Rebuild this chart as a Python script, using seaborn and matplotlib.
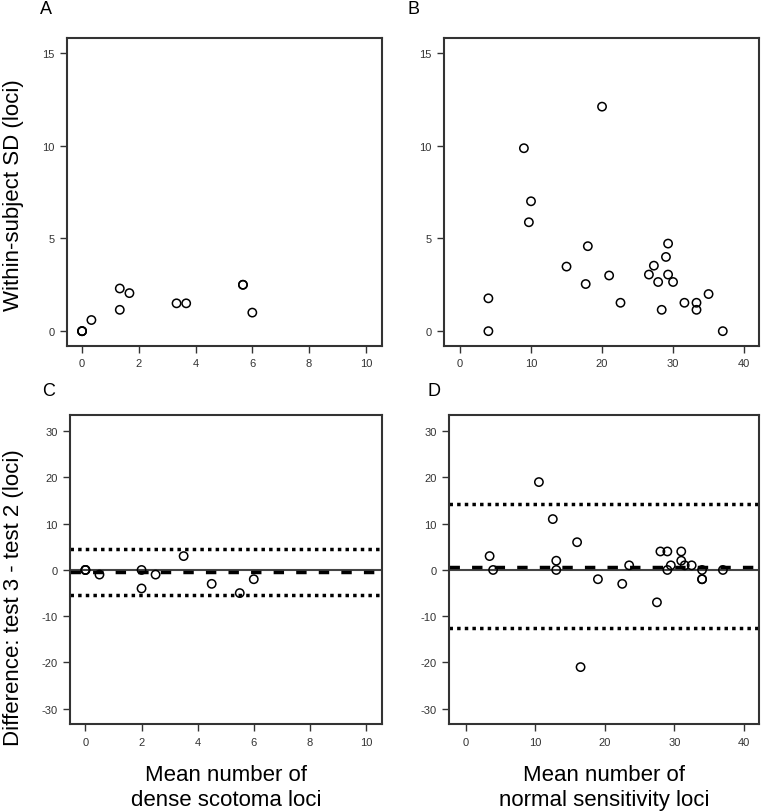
import matplotlib as mpl
import matplotlib.pyplot as plt
import numpy as np
import pandas as pd
import seaborn as sns

sns.set_style('ticks')
plt.rcParams['font.family'] = ['Liberation Sans', 'DejaVu Sans']
plt.rcParams['axes.unicode_minus'] = False

# panel A: dense scotoma loci, within-subject SD
a_mean = [0, 0, 0, 0.33, 1.33, 1.33, 1.67, 3.33, 3.67, 5.67, 5.67, 6.0]
a_sd = [0, 0, 0, 0.6, 2.3, 1.15, 2.05, 1.5, 1.5, 2.5, 2.5, 1.0]

# panel B: normal sensitivity loci, within-subject SD
b_mean = [4.0, 4.0, 9.0, 10.0, 9.7, 20.0, 15.0, 17.7, 18.0, 21.0, 22.6, 26.6,
          27.3, 27.9, 28.4, 29.0, 29.3, 29.3, 30.0, 31.6, 33.3, 33.3, 35.0, 37.0]
b_sd = [0, 1.77, 9.86, 7.0, 5.87, 12.1, 3.48, 2.54, 4.58, 3.0, 1.53, 3.05,
        3.53, 2.65, 1.15, 4.0, 4.72, 3.05, 2.65, 1.53, 1.53, 1.15, 2.0, 0]

# panel C: dense scotoma loci, test 3 - test 2
c_mean = [0, 0, 0, 0.5, 2.0, 2.0, 2.5, 3.5, 4.5, 5.5, 6.0]
c_diff = [0, 0, 0, -1, 0, -4, -1, 3, -3, -5, -2]
c_bias, c_lo, c_hi = -0.5, -5.5, 4.55

# panel D: normal sensitivity loci, test 3 - test 2
d_mean = [3.4, 3.9, 10.5, 12.5, 13.0, 13.0, 16.0, 16.5, 19.0, 22.5, 23.5, 27.5,
          28.0, 29.0, 29.0, 29.5, 31.0, 31.0, 31.5, 32.5, 34.0, 34.0, 34.0, 37.0]
d_diff = [3, 0, 19, 11, 2, 0, 6, -21, -2, -3, 1, -7,
          4, 4, 0, 1, 4, 2, 1, 1, 0, -2, -2, 0]
d_bias, d_lo, d_hi = 0.72, -12.55, 14.2

W, H = 761, 812
fig = plt.figure(figsize=(W / 100, H / 100), dpi=100)


def box(l, t, r, b):
    return [l / W, 1 - b / H, (r - l) / W, (b - t) / H]


axA = fig.add_axes(box(67, 39, 382, 347))
axB = fig.add_axes(box(444, 39, 759, 347))
axC = fig.add_axes(box(70, 416, 382, 725))
axD = fig.add_axes(box(449, 416, 759, 725))

pts = dict(marker='o', s=36, facecolor='none', edgecolor='black',
           linewidth=1.1, legend=False)

sns.scatterplot(x=a_mean, y=a_sd, ax=axA, **pts)
sns.scatterplot(x=b_mean, y=b_sd, ax=axB, **pts)

# zero line, mean difference and limits of agreement
for ax, bias, lo, hi in [(axC, c_bias, c_lo, c_hi), (axD, d_bias, d_lo, d_hi)]:
    ax.axhline(0, color='#444444', lw=1.5, zorder=1)
    ax.axhline(bias, color='black', lw=2.5, ls=(0, (3, 3.5)), zorder=1)
    ax.axhline(lo, color='black', lw=2.5, ls=(0, (1, 1.2)), zorder=1)
    ax.axhline(hi, color='black', lw=2.5, ls=(0, (1, 1.2)), zorder=1)

sns.scatterplot(x=c_mean, y=c_diff, ax=axC, **pts)
sns.scatterplot(x=d_mean, y=d_diff, ax=axD, **pts)

axA.set_xlim(-0.53, 10.57)
axC.set_xlim(-0.55, 10.57)
axB.set_xlim(-2.25, 42.1)
axD.set_xlim(-2.45, 42.2)
for ax in (axA, axC):
    ax.set_xticks([0, 2, 4, 6, 8, 10])
for ax in (axB, axD):
    ax.set_xticks([0, 10, 20, 30, 40])
for ax in (axA, axB):
    ax.set_ylim(-0.8, 15.8)
    ax.set_yticks([0, 5, 10, 15])
for ax in (axC, axD):
    ax.set_ylim(-33.3, 33.5)
    ax.set_yticks([-30, -20, -10, 0, 10, 20, 30])

for ax in (axA, axB, axC, axD):
    for s in ax.spines.values():
        s.set_color('#333333')
        s.set_linewidth(1.5)
        s.set_visible(True)
    ax.tick_params(direction='out', length=5, width=1.0, color='#333333',
                   labelsize=8, labelcolor='#333333', pad=4)
    ax.set_xlabel('')
    ax.set_ylabel('')

for x, y, t in [(46, 10, 'A'), (414, 10, 'B'), (49, 391, 'C'), (434, 391, 'D')]:
    fig.text(x / W, 1 - y / H, t, fontsize=13, color='black',
             ha='center', va='center')

fig.text(14 / W, 1 - 195 / H, 'Within-subject SD (loci)', rotation=90,
         fontsize=16, color='black', ha='center', va='center')
fig.text(14 / W, 1 - 598 / H, 'Difference: test 3 - test 2 (loci)', rotation=90,
         fontsize=16, color='black', ha='center', va='center')
fig.text(226 / W, 1 - 788 / H, 'Mean number of\ndense scotoma loci',
         fontsize=16, color='black', ha='center', va='center', linespacing=1.25)
fig.text(604 / W, 1 - 788 / H, 'Mean number of\nnormal sensitivity loci',
         fontsize=16, color='black', ha='center', va='center', linespacing=1.25)

plt.savefig('out.png', dpi=100, facecolor='w')
